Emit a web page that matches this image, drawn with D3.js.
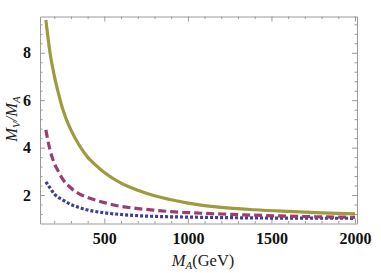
<!DOCTYPE html>
<html>
<head>
<meta charset="utf-8">
<script src="https://cdn.jsdelivr.net/npm/d3@7"></script>
<style>
  body { margin: 0; background: #fff; }
  text { font-family: "Liberation Serif", "DejaVu Serif", serif; }
</style>
</head>
<body>
<div id="wrapper"></div>
<script>
// values
const solidX  = [150, 175, 200, 225, 250, 275, 300, 350, 400, 450, 500, 600, 700, 800, 900, 1000, 1200, 1400, 1600, 1800, 2000]
const solidY  = [9.38, 8.0, 7.05, 6.3, 5.65, 5.15, 4.75, 4.1, 3.6, 3.25, 2.95, 2.5, 2.2, 1.97, 1.8, 1.66, 1.48, 1.38, 1.31, 1.25, 1.21]
const dashX   = [150, 175, 200, 225, 250, 300, 350, 400, 500, 600, 700, 800, 900, 1000, 1200, 1400, 1600, 1800, 2000]
const dashY   = [4.75, 3.9, 3.35, 3.0, 2.68, 2.3, 2.05, 1.9, 1.68, 1.52, 1.43, 1.36, 1.3, 1.26, 1.2, 1.15, 1.11, 1.08, 1.06]
const dotX    = [150, 175, 200, 250, 300, 350, 400, 500, 600, 700, 800, 1000, 1200, 1500, 2000]
const dotY    = [2.56, 2.3, 2.05, 1.8, 1.6, 1.47, 1.37, 1.25, 1.18, 1.13, 1.1, 1.07, 1.05, 1.03, 1.02]
const xTicks  = [500, 1000, 1500, 2000]
const yTicks  = [2, 4, 6, 8]

function drawChart() {
    let dimensions = {
        width: 381,
        height: 273,
        margin: { top: 16.5, right: 24, bottom: 49.5, left: 40 },
    }
    dimensions.boundedWidth = dimensions.width - dimensions.margin.left - dimensions.margin.right
    dimensions.boundedHeight = dimensions.height - dimensions.margin.top - dimensions.margin.bottom

    const wrapper = d3.select("#wrapper")
        .append("svg")
        .attr("width", dimensions.width)
        .attr("height", dimensions.height)

    const bounds = wrapper.append("g")
        .attr("transform", `translate(${dimensions.margin.left},${dimensions.margin.top})`)

    const xScaler = d3.scaleLinear()
        .domain([115, 2012])
        .range([0, dimensions.boundedWidth])
    const yScaler = d3.scaleLinear()
        .domain([0.8, 9.53])
        .range([dimensions.boundedHeight, 0])

    const minorX = d3.range(200, 2001, 100).filter(v => v % 500 != 0)
    const minorY = d3.range(1.2, 9.5, 0.4).filter(v => Math.abs(v / 2 - Math.round(v / 2)) > 0.01)

    const frameColor = "#9a9a9a"
    const W = dimensions.boundedWidth, H = dimensions.boundedHeight

    // ticks on all four sides, pointing inward
    const axes = [
        { gen: d3.axisBottom(xScaler), t: `translate(0,${H})`, major: xTicks, minor: minorX, label: true },
        { gen: d3.axisTop(xScaler), t: `translate(0,0)`, major: xTicks, minor: minorX, label: false },
        { gen: d3.axisLeft(yScaler), t: `translate(0,0)`, major: yTicks, minor: minorY, label: true },
        { gen: d3.axisRight(yScaler), t: `translate(${W},0)`, major: yTicks, minor: minorY, label: false },
    ]
    axes.forEach(a => {
        const gMinor = bounds.append("g")
            .attr("transform", a.t)
            .call(a.gen.tickValues(a.minor).tickSizeInner(-2.5).tickSizeOuter(0).tickFormat(""))
        gMinor.select(".domain").remove()
        gMinor.selectAll("line").attr("stroke", frameColor)

        const gMajor = bounds.append("g")
            .attr("transform", a.t)
            .call(a.gen.tickValues(a.major).tickSizeInner(-5).tickSizeOuter(0)
                .tickPadding(a.label ? 9 : 0).tickFormat(a.label ? d3.format("d") : ""))
        gMajor.select(".domain").attr("stroke", frameColor)
        gMajor.selectAll("line").attr("stroke", frameColor)
        gMajor.selectAll("text")
            .attr("font-family", "'Liberation Serif', serif")
            .attr("font-size", "16px")
            .attr("font-weight", "bold")
            .attr("fill", "#111")
    })

    const line = d3.line()
        .x(d => xScaler(d[0]))
        .y(d => yScaler(d[1]))
        .curve(d3.curveMonotoneX)

    const series = [
        { xs: dotX, ys: dotY, color: "#3d3d9c", dash: "3,2" },
        { xs: dashX, ys: dashY, color: "#9c3d72", dash: "8,4" },
        { xs: solidX, ys: solidY, color: "#9e9a3e", dash: null },
    ]
    series.forEach(s => {
        bounds.append("path")
            .datum(s.xs.map((x, i) => [x, s.ys[i]]))
            .attr("d", line)
            .attr("fill", "none")
            .attr("stroke", s.color)
            .attr("stroke-width", 3.2)
            .attr("stroke-dasharray", s.dash)
    })

    // axis labels
    const xLabel = wrapper.append("text")
        .attr("x", 203)
        .attr("y", 266)
        .attr("text-anchor", "middle")
        .attr("font-size", "16.5px")
        .attr("fill", "#222")
    xLabel.append("tspan").attr("font-style", "italic").text("M")
    xLabel.append("tspan").attr("font-style", "italic").attr("font-size", "11px").attr("dy", 3).text("A")
    xLabel.append("tspan").attr("dy", -3).text("(GeV)")

    const yLabel = wrapper.append("text")
        .attr("transform", "translate(17,119) rotate(-90)")
        .attr("text-anchor", "middle")
        .attr("font-size", "16.5px")
        .attr("font-style", "italic")
        .attr("fill", "#222")
    yLabel.append("tspan").text("M")
    yLabel.append("tspan").attr("font-size", "11px").attr("dy", 3).text("V")
    yLabel.append("tspan").attr("dy", -3).text("/M")
    yLabel.append("tspan").attr("font-size", "11px").attr("dy", 3).text("A")
}

drawChart()
</script>
</body>
</html>
